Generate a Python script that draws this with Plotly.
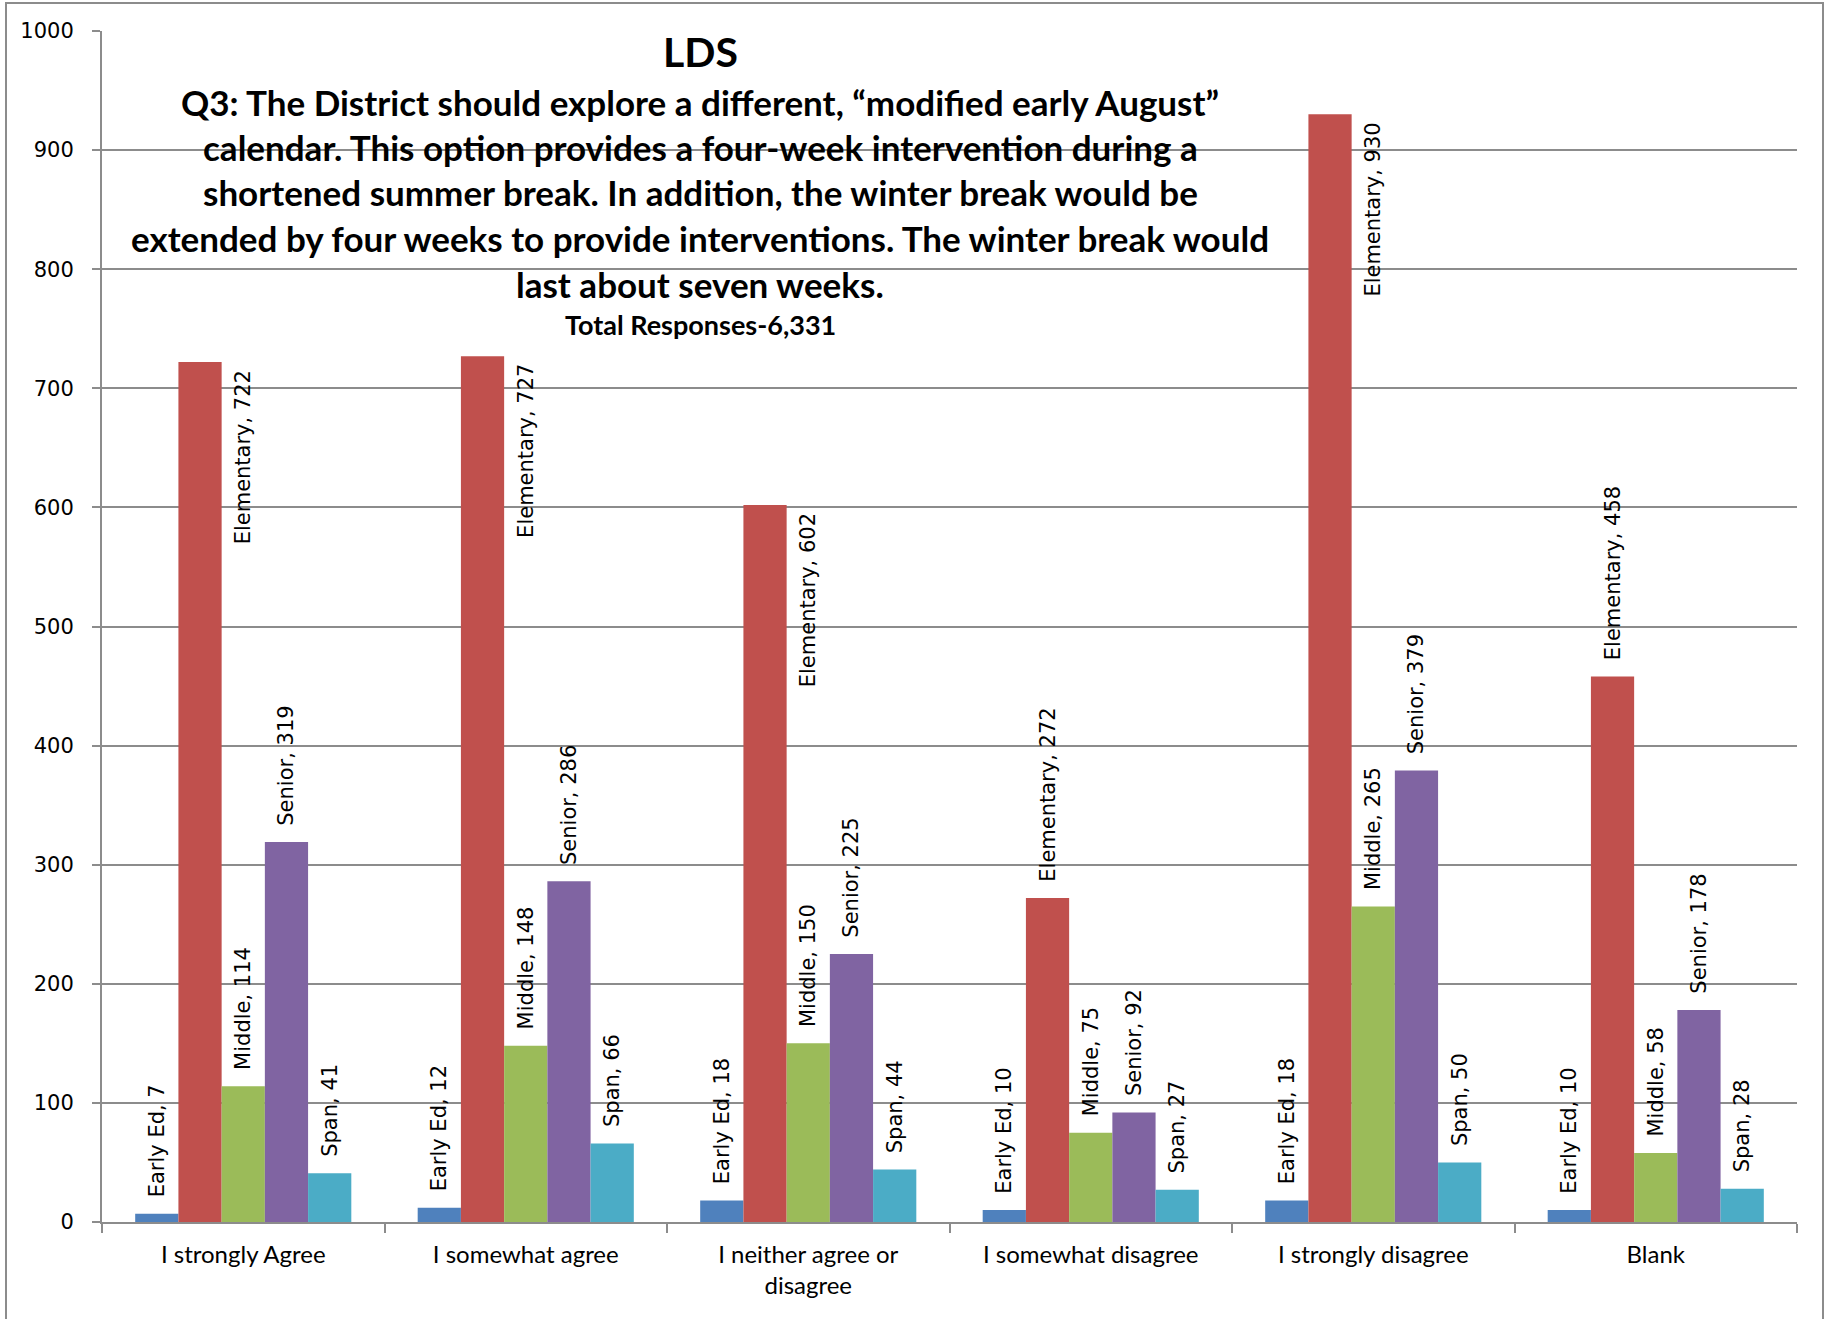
import plotly.graph_objects as go

categories = ["I strongly Agree", "I somewhat agree", "I neither agree or<br>disagree",
              "I somewhat disagree", "I strongly disagree", "Blank"]
series_names = ["Early Ed", "Elementary", "Middle", "Senior", "Span"]
early_ed = [7, 12, 18, 10, 18, 10]
elementary = [722, 727, 602, 272, 930, 458]
middle = [114, 148, 150, 75, 265, 58]
senior = [319, 286, 225, 92, 379, 178]
span = [41, 66, 44, 27, 50, 28]
colors = ["#4F81BD", "#C0504D", "#9BBB59", "#8064A2", "#4BACC6"]
# Elementary labels drawn beside the bar (inside group) instead of above it
elementary_beside = [True, True, True, False, True, False]

title_lines = [
    "Q3: The District should explore a different, \u201cmodified early August\u201d",
    "calendar. This option provides a four-week intervention during a",
    "shortened summer break. In addition, the winter break would be",
    "extended by four weeks to provide interventions. The winter break would",
    "last about seven weeks.",
]

W, H = 1826, 1319
L, R, T, B = 102, 29, 31, 97
pw, ph = W - L - R, H - T - B

label_font = dict(family="DejaVu Sans", size=21, color="#000000")
PAD = "\u00a0\u00a0"

fig = go.Figure()
all_vals = [early_ed, elementary, middle, senior, span]
for name, vals, col in zip(series_names, all_vals, colors):
    texts = [f"{PAD}{name}, {v}" for v in vals]
    if name == "Elementary":
        tpos = ["none" if b else "outside" for b in elementary_beside]
    else:
        tpos = "outside"
    fig.add_trace(go.Bar(
        x=categories, y=vals, name=name,
        marker=dict(color=col, line=dict(width=0)),
        text=texts, textposition=tpos, textangle=-90,
        textfont=label_font, constraintext="none", cliponaxis=False,
    ))

annotations = []
for cat, v, b in zip(categories, elementary, elementary_beside):
    if b:
        annotations.append(dict(
            x=cat, y=v, xref="x", yref="y", text=f"Elementary, {v}",
            textangle=-90, showarrow=False, xanchor="center", yanchor="top",
            yshift=-6, font=label_font,
        ))

def px_to_paper_x(px):
    return (px - L) / pw

def px_to_paper_y(py):
    return (H - B - py) / ph

title_font = "Lato, 'Open Sans', sans-serif"
cx = px_to_paper_x(700)
annotations.append(dict(x=cx, y=px_to_paper_y(51), xref="paper", yref="paper",
                        text="<b>LDS</b>", showarrow=False, xanchor="center", yanchor="middle",
                        font=dict(family=title_font, size=41, color="#000")))
line_ys = [102, 147, 192, 238, 284]
for ln, yy in zip(title_lines, line_ys):
    annotations.append(dict(x=cx, y=px_to_paper_y(yy), xref="paper", yref="paper",
                            text=f"<b>{ln}</b>", showarrow=False, xanchor="center", yanchor="middle",
                            font=dict(family=title_font, size=35, color="#000")))
annotations.append(dict(x=cx, y=px_to_paper_y(325), xref="paper", yref="paper",
                        text="<b>Total Responses-6,331</b>", showarrow=False,
                        xanchor="center", yanchor="middle",
                        font=dict(family=title_font, size=27, color="#000")))

grid_col = "#8C8C8C"
fig.update_layout(
    width=W, height=H,
    margin=dict(l=L, r=R, t=T, b=B, pad=0),
    paper_bgcolor="white", plot_bgcolor="white",
    barmode="group", bargap=0.235, bargroupgap=0,
    showlegend=False,
    annotations=annotations,
    xaxis=dict(showline=True, linecolor=grid_col, linewidth=2,
               ticks="outside", tickson="boundaries", ticklen=9, tickcolor=grid_col, tickwidth=2,
               ticklabelstandoff=10,
               tickfont=dict(family="Lato, 'Open Sans', sans-serif", size=24, color="#000"),
               showgrid=False),
    yaxis=dict(range=[0, 1000], dtick=100, showline=True, linecolor=grid_col, linewidth=2,
               ticks="outside", ticklen=8, tickcolor=grid_col, tickwidth=2,
               ticklabelstandoff=14,
               showgrid=True, gridcolor=grid_col, gridwidth=2, zeroline=False,
               tickfont=dict(family="DejaVu Sans", size=21, color="#000")),
    shapes=[dict(type="rect", xref="paper", yref="paper",
                 x0=px_to_paper_x(6), x1=px_to_paper_x(1823),
                 y0=px_to_paper_y(1340), y1=px_to_paper_y(3),
                 line=dict(color="#8C8C8C", width=2), fillcolor="rgba(0,0,0,0)", layer="below")],
)

fig.write_html("out.html", config={"displayModeBar": False},
               post_script="document.body.style.margin='0';")
